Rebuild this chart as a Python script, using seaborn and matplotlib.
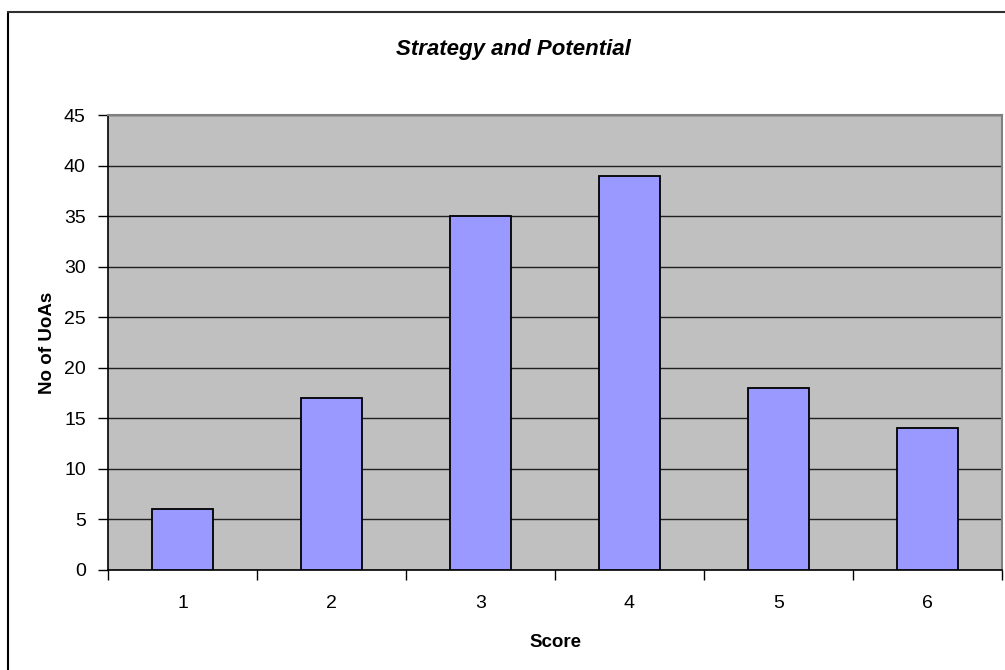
import matplotlib
matplotlib.use("Agg")
import matplotlib.pyplot as plt
from matplotlib.lines import Line2D
import seaborn as sns
import pandas as pd
import numpy as np

scores = ["1", "2", "3", "4", "5", "6"]
counts = [6, 17, 35, 39, 18, 14]
title = "Strategy and Potential"
x_label = "Score"
y_label = "No of UoAs"

df = pd.DataFrame({"score": scores, "count": counts})

sns.set_theme(style="white")
plt.rcParams["font.family"] = ["Liberation Sans", "DejaVu Sans"]
plt.rcParams["text.color"] = "black"
plt.rcParams["axes.labelcolor"] = "black"
plt.rcParams["xtick.color"] = "black"
plt.rcParams["ytick.color"] = "black"

fig = plt.figure(figsize=(10.05, 6.70), dpi=100)
ax = fig.add_axes([108 / 1005, 1 - 570 / 670, (1002 - 108) / 1005, (570 - 115) / 670])

sns.barplot(data=df, x="score", y="count", color="#9999FF", edgecolor="black",
            linewidth=1.3, width=0.41, saturation=1, ax=ax, zorder=3)

ax.set_facecolor("#C0C0C0")
ax.set_xlim(-0.5, 5.5)
ax.set_ylim(0, 45)
ax.set_yticks(np.arange(0, 46, 5))
ax.yaxis.grid(True, color="#202020", linewidth=1.0)
ax.set_axisbelow(True)

# category labels centred, tick marks on the category boundaries
ax.set_xticks(range(len(scores)))
ax.set_xticklabels(scores)
ax.set_xticks(np.arange(-0.5, len(scores), 1), minor=True)
ax.tick_params(axis="x", which="major", length=0, pad=18, labelsize=14, bottom=True)
ax.tick_params(axis="x", which="minor", length=7, width=1, color="black",
               direction="out", bottom=True)
ax.tick_params(axis="y", length=7, width=1, color="black", direction="out", pad=9,
               labelsize=14, left=True)

for side in ["left", "bottom"]:
    ax.spines[side].set_color("black")
    ax.spines[side].set_linewidth(1.2)
for side in ["top", "right"]:
    ax.spines[side].set_color("#808080")
    ax.spines[side].set_linewidth(1.5)

ax.set_xlabel(x_label, fontsize=13.5, fontweight="bold", labelpad=16)
ax.set_ylabel(y_label, fontsize=13.5, fontweight="bold", labelpad=6)

fig.text(513 / 1005, 1 - 50 / 670, title, ha="center", va="center",
         fontsize=16, fontweight="bold", fontstyle="italic")

# chart frame (cropped on the right and bottom)
fx, fy = 8 / 1005, 1 - 12 / 670
fig.add_artist(Line2D([fx, fx], [0, fy], transform=fig.transFigure, color="black", lw=1.5))
fig.add_artist(Line2D([fx, 1], [fy, fy], transform=fig.transFigure, color="#303030", lw=1.5))

fig.savefig("out.png", dpi=100)
